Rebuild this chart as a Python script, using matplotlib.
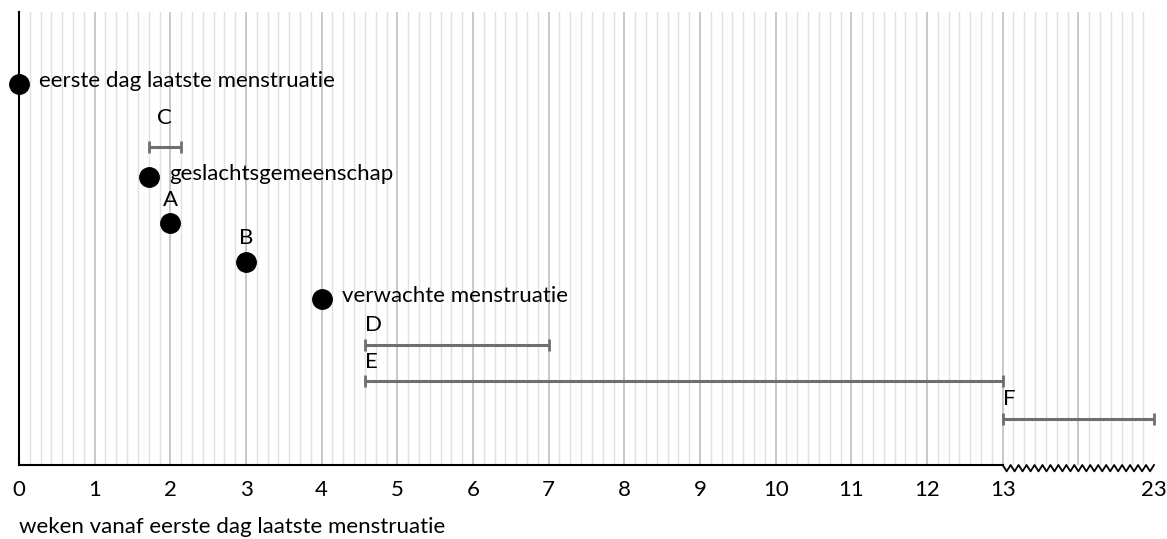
import numpy as np
import matplotlib
matplotlib.use("Agg")
import matplotlib.pyplot as plt
from matplotlib.transforms import blended_transform_factory

plt.rcParams['font.family'] = ['Lato', 'DejaVu Sans']

# gebeurtenissen (stippen): week, rij, tekst
punt_week = [0, 12 / 7, 2, 3, 4]
punt_rij = [84.1, 63.6, 53.4, 44.8, 36.6]
punt_tekst = ['eerste dag laatste menstruatie', 'geslachtsgemeenschap', 'A', 'B', 'verwachte menstruatie']

# periodes (balken): begin, eind, rij, letter
balk_begin = [12 / 7, 32 / 7, 32 / 7, 13]
balk_eind = [15 / 7, 7, 13, 23]
balk_rij = [70.2, 26.5, 18.5, 10.2]
balk_letter = ['C', 'D', 'E', 'F']

tick_weken = list(range(0, 14)) + [23]
xlabel = 'weken vanaf eerste dag laatste menstruatie'

KNIK = 13
FACTOR = 0.2
FS = 16


def fwd(x):
    x = np.asarray(x, dtype=float)
    return np.where(x <= KNIK, x, KNIK + (x - KNIK) * FACTOR)


def inv(p):
    p = np.asarray(p, dtype=float)
    return np.where(p <= KNIK, p, KNIK + (p - KNIK) / FACTOR)


W, H = 1167, 539
fig = plt.figure(figsize=(W / 100, H / 100), dpi=100)
ax = fig.add_axes([19 / W, (H - 465) / H, (1154 - 19) / W, (465 - 12) / H])
ax.set_xscale('function', functions=(fwd, inv))
ax.set_xlim(0, 23)
ax.set_ylim(0, 100)

# rasterlijnen: dagen licht, weken donkerder
for d in range(0, 13 * 7 + 1):
    w = d / 7
    if d % 7 == 0:
        ax.axvline(w, color='#c4c4c4', lw=1.3, zorder=0)
    else:
        ax.axvline(w, color='#e0e0e0', lw=1.0, zorder=0)
for i in range(1, 15):
    w = 13 + i * 10 / 14
    kleur = '#c4c4c4' if i == 7 else '#e0e0e0'
    ax.axvline(w, color=kleur, lw=1.3 if i == 7 else 1.0, zorder=0)

# assen
for s in ['top', 'right']:
    ax.spines[s].set_visible(False)
ax.spines['bottom'].set_bounds(0, 13)
ax.spines['left'].set_linewidth(1.5)
ax.spines['bottom'].set_linewidth(1.5)
ax.set_yticks([])
ax.set_xticks(tick_weken)
ax.set_xticklabels([str(t) for t in tick_weken])
ax.tick_params(axis='x', length=0, pad=11, labelsize=FS)

# zigzag voor onderbroken as
tr = blended_transform_factory(ax.transData, ax.transAxes)
n = 38
zx = inv(np.linspace(13, 15, n + 1))
zy = np.array([0 if k % 2 == 0 else -0.014 for k in range(n + 1)])
ax.plot(zx, zy, color='black', lw=1.3, transform=tr, clip_on=False)

# balken
grijs = '#6f6f6f'
for b, e, r, l in zip(balk_begin, balk_eind, balk_rij, balk_letter):
    ax.plot([b, e], [r, r], color=grijs, lw=2.2, marker='|', ms=9, mew=2.0,
            solid_capstyle='butt', clip_on=False)
    if l == 'C':
        ax.text((b + e) / 2, r + 6.5, l, ha='center', va='center', fontsize=FS)
    else:
        ax.text(b, r + 4.3, l, ha='left', va='center', fontsize=FS)

# stippen
for w, r, t in zip(punt_week, punt_rij, punt_tekst):
    ax.plot(w, r, 'o', color='black', ms=14, clip_on=False, zorder=5)
    if len(t) == 1:
        ax.text(w, r + 5.2, t, ha='center', va='center', fontsize=FS)
    else:
        ax.text(w + 0.27, r + 0.6, t, ha='left', va='center', fontsize=FS)

fig.text(19 / W, (H - 527) / H, xlabel, ha='left', va='center', fontsize=FS)

fig.savefig('out.png', dpi=100)
